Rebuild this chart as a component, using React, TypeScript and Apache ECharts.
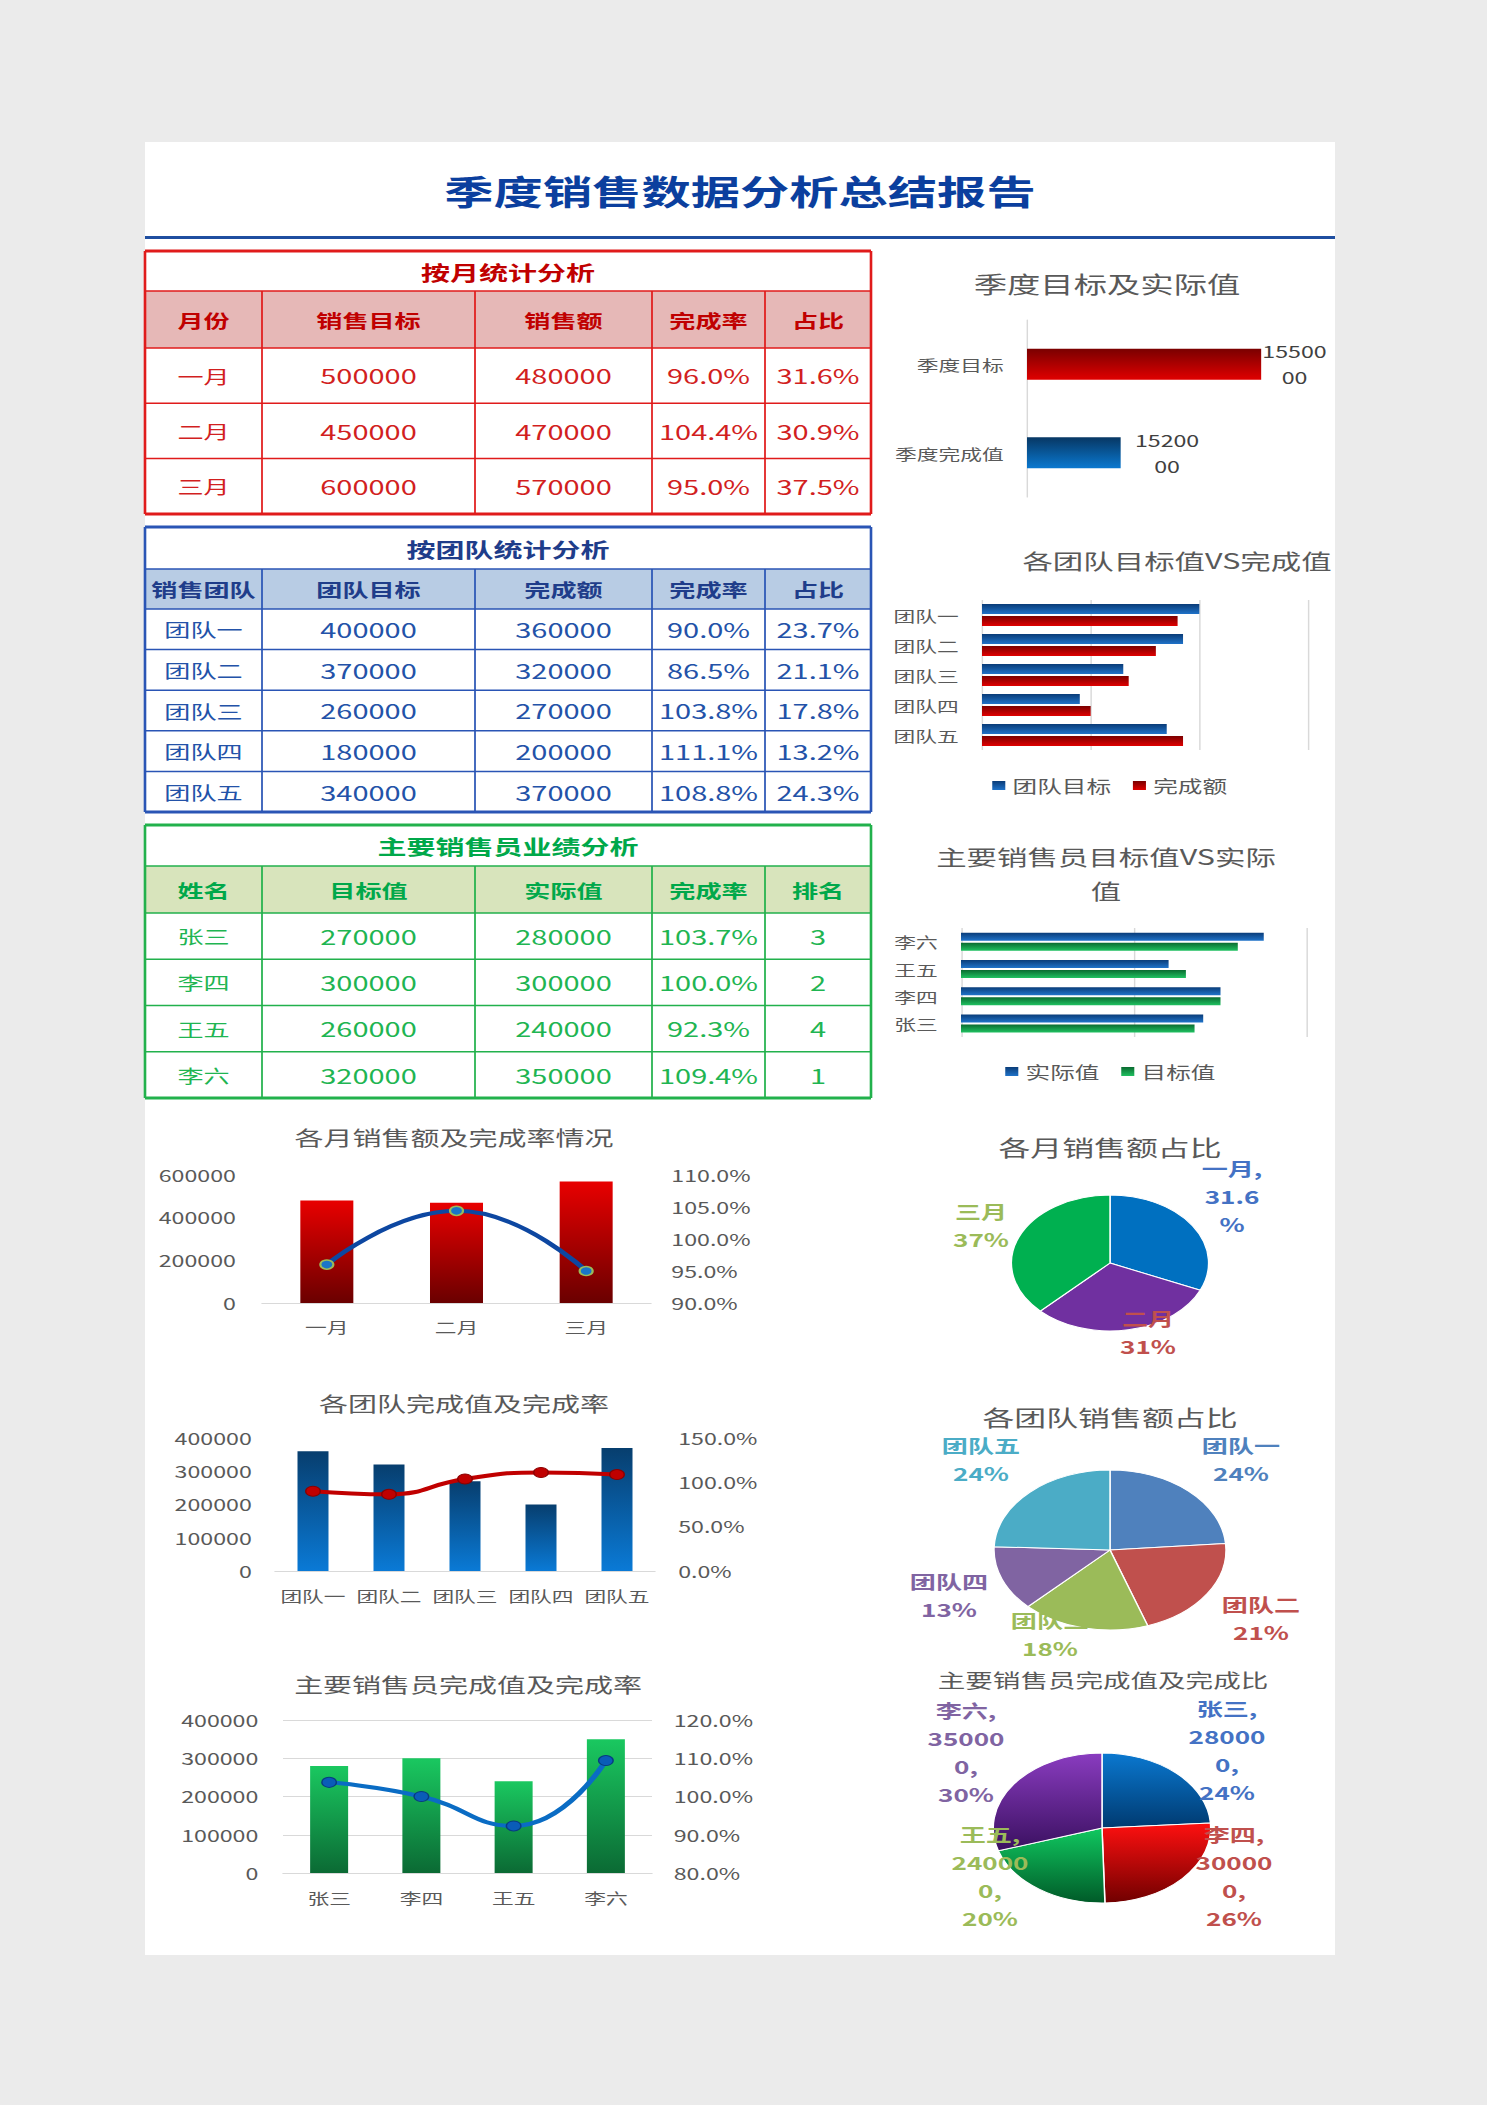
import React, { useEffect, useRef } from 'react';
import * as echarts from 'echarts';

// ---------------- data ----------------
const monthNames = ['一月', '二月', '三月'];
const monthTarget = [500000, 450000, 600000];
const monthSales = [480000, 470000, 570000];
const monthRate = [96.0, 104.4, 95.0];
const monthShare = [31.6, 30.9, 37.5];

const teamNames = ['团队一', '团队二', '团队三', '团队四', '团队五'];
const teamTarget = [400000, 370000, 260000, 180000, 340000];
const teamDone = [360000, 320000, 270000, 200000, 370000];
const teamRate = [90.0, 86.5, 103.8, 111.1, 108.8];
const teamShare = [23.7, 21.1, 17.8, 13.2, 24.3];

const personNames = ['张三', '李四', '王五', '李六'];
const personTarget = [270000, 300000, 260000, 320000];
const personActual = [280000, 300000, 240000, 350000];
const personRate = [103.7, 100.0, 92.3, 109.4];
const personRank = [3, 2, 4, 1];

const quarterNames = ['季度目标', '季度完成值'];
const quarterValues = [1550000, 1520000];

const monthTableHeaders = ['月份', '销售目标', '销售额', '完成率', '占比'];
const teamTableHeaders = ['销售团队', '团队目标', '完成额', '完成率', '占比'];
const personTableHeaders = ['姓名', '目标值', '实际值', '完成率', '排名'];

// axis ranges [min, max, interval]
const monthAmountAxis = [0, 600000, 200000];
const monthRateAxis = [90, 110, 5];
const teamAmountAxis = [0, 400000, 100000];
const teamRateAxis = [0, 150, 50];
const personAmountAxis = [0, 400000, 100000];
const personRateAxis = [80, 120, 10];
const teamBarAxis = [0, 600000, 200000];
const personBarAxis = [0, 400000, 200000];
const quarterAxis = [1500000, 1560000];

// ---------------- layout (page pixels) ----------------
const SX = 1.45; // horizontal stretch of the whole sheet
const W = 1025;
const H = 2105;
const lx = (v: number) => v / SX;
const FONT = '"Noto Sans CJK SC", "Noto Sans", sans-serif';

const TABLE_COLS = [145, 262, 475, 652, 765, 871];
const MONTH_TABLE = { top: 251, titleH: 40, headerH: 57, rowH: 55.3 };
const TEAM_TABLE = { top: 527, titleH: 42, headerH: 40, rowH: 40.6 };
const PERSON_TABLE = { top: 825, titleH: 41, headerH: 47, rowH: 46.25 };

const PIE1_LABEL_POS = [[1232, 1196], [1148, 1332], [981, 1225]];
const PIE2_LABEL_POS = [[1241, 1459], [1261, 1618], [1050, 1634], [949, 1595], [981, 1459]];
const PIE3_LABEL_POS = [[1227, 1750], [1234, 1876], [990, 1876], [966, 1752]];

function txt(x: number, y: number, text: string, size: number, color: string, weight = 'normal', extra: any = {}) {
  return {
    type: 'text', x: lx(x), y, z: 5,
    style: {
      text, fill: color, fontSize: size, fontWeight: weight, fontFamily: FONT,
      align: 'center', verticalAlign: 'middle', textAlign: 'center', textVerticalAlign: 'middle', ...extra,
    },
  };
}
function ln(x1: number, y1: number, x2: number, y2: number, color: string, w: number) {
  return { type: 'line', z: 4, shape: { x1: lx(x1), y1, x2: lx(x2), y2 }, style: { stroke: color, lineWidth: w } };
}
function rc(x: number, y: number, w: number, h: number, fill: string, z = 1) {
  return { type: 'rect', z, shape: { x: lx(x), y, width: lx(x + w) - lx(x), height: h }, style: { fill } };
}

function table(cfg: any) {
  const { top, titleH, headerH, rowH, title, headers, rows, border, headFill, titleColor, headColor, cellColor } = cfg;
  const cols = TABLE_COLS;
  const left = cols[0];
  const right = cols[cols.length - 1];
  const headTop = top + titleH;
  const bodyTop = headTop + headerH;
  const bottom = bodyTop + rowH * rows.length;
  const els: any[] = [];
  els.push(rc(left, headTop, right - left, headerH, headFill, 2));
  els.push(txt((left + right) / 2, top + titleH / 2 + 1, title, 20, titleColor, 'bold'));
  headers.forEach((h: string, i: number) =>
    els.push(txt((cols[i] + cols[i + 1]) / 2, headTop + headerH / 2, h, 18, headColor, 'bold')));
  rows.forEach((r: string[], ri: number) =>
    r.forEach((c: string, ci: number) =>
      els.push(txt((cols[ci] + cols[ci + 1]) / 2, bodyTop + rowH * (ri + 0.5), c, ci === 0 ? 18 : 20, cellColor))));
  els.push(ln(left, headTop, right, headTop, border, 1.5));
  els.push(ln(left, bodyTop, right, bodyTop, border, 1.5));
  for (let i = 1; i < rows.length; i++) els.push(ln(left, bodyTop + rowH * i, right, bodyTop + rowH * i, border, 1.5));
  for (let i = 1; i < cols.length - 1; i++) els.push(ln(cols[i], headTop, cols[i], bottom, border, 1.2));
  els.push(ln(left, top, right, top, border, 3));
  els.push(ln(left, bottom, right, bottom, border, 3));
  els.push(ln(left, top, left, bottom, border, 1.8));
  els.push(ln(right, top, right, bottom, border, 1.8));
  return els;
}

const vgrad = (top: string, bottom: string) =>
  new echarts.graphic.LinearGradient(0, 0, 0, 1, [
    { offset: 0, color: top },
    { offset: 1, color: bottom },
  ]);

function gridBox(x: number, y: number, w: number, h: number) {
  return { left: lx(x), top: y, width: lx(x + w) - lx(x), height: h, containLabel: false, outerBoundsMode: 'none' };
}

function buildOption() {
  const lbl = { fontFamily: FONT, color: '#595959' };
  const pctFmt = (v: number) => v.toFixed(1) + '%';
  const plainFmt = (v: number) => String(v);
  const noLine = { show: false };
  const grayLine = { show: true, lineStyle: { color: '#d9d9d9', width: 1 } };

  const monthRows = monthNames.map((n, i) => [n, String(monthTarget[i]), String(monthSales[i]), monthRate[i].toFixed(1) + '%', monthShare[i].toFixed(1) + '%']);
  const teamRows = teamNames.map((n, i) => [n, String(teamTarget[i]), String(teamDone[i]), teamRate[i].toFixed(1) + '%', teamShare[i].toFixed(1) + '%']);
  const personRows = personNames.map((n, i) => [n, String(personTarget[i]), String(personActual[i]), personRate[i].toFixed(1) + '%', String(personRank[i])]);

  const chartTitles: [string, number, number, number][] = [
    ['季度目标及实际值', 1107, 283, 23],
    ['各团队目标值VS完成值', 1177, 560, 21],
    ['主要销售员目标值VS实际\n值', 1106, 873, 21],
    ['各月销售额及完成率情况', 454, 1137, 20],
    ['各团队完成值及完成率', 464, 1403, 20],
    ['主要销售员完成值及完成率', 468, 1684, 20],
    ['各月销售额占比', 1110, 1146, 22],
    ['各团队销售额占比', 1110, 1416, 22],
    ['主要销售员完成值及完成比', 1103, 1680, 19],
  ];

  const elements: any[] = [
    rc(145, 142, 1190, 1813, '#ffffff', 0),
    txt(740, 190, '季度销售数据分析总结报告', 34, '#0b3f9e', 'bold'),
    ln(145, 237.5, 1335, 237.5, '#1f4ea0', 3),
    ...table({ ...MONTH_TABLE, title: '按月统计分析', headers: monthTableHeaders, rows: monthRows, border: '#e01b1b', headFill: '#e6b8b7', titleColor: '#c00000', headColor: '#c00000', cellColor: '#d21f1f' }),
    ...table({ ...TEAM_TABLE, title: '按团队统计分析', headers: teamTableHeaders, rows: teamRows, border: '#2a55b5', headFill: '#b8cce4', titleColor: '#1f3d8a', headColor: '#1f3d8a', cellColor: '#2352a8' }),
    ...table({ ...PERSON_TABLE, title: '主要销售员业绩分析', headers: personTableHeaders, rows: personRows, border: '#22b14c', headFill: '#d8e4bc', titleColor: '#00a84a', headColor: '#00a84a', cellColor: '#1fb552' }),
    ...chartTitles.map(([t, x, y, s]) => txt(x, y, t, s, '#595959', 'normal', { lineHeight: 34 })),
  ];

  const redH = vgrad('#7a0000', '#e00000');
  const blueH = vgrad('#0a3c78', '#1f72c8');
  const greenH = vgrad('#0a6a30', '#1fc060');

  const valueAxisCommon = (idx: number, r: number[], extra: any = {}) => ({
    gridIndex: idx, type: 'value', min: r[0], max: r[1], interval: r[2],
    axisLine: noLine, axisTick: { show: false }, splitLine: { show: false },
    axisLabel: { ...lbl, fontSize: 16 }, ...extra,
  });

  const pieLabelLayout = (pos: number[][]) => (p: any) => ({
    x: lx(pos[p.dataIndex][0]), y: pos[p.dataIndex][1], align: 'center', verticalAlign: 'middle',
  });
  const pieLabel = { show: true, position: 'outside', fontFamily: FONT, fontSize: 18, fontWeight: 'bold', lineHeight: 28 };

  const monthPieColors = ['#0070c0', '#7030a0', '#00b050'];
  const monthPieLabelColors = ['#4472c4', '#c0504d', '#9bbb59'];
  const teamPieColors = ['#4f81bd', '#c0504d', '#9bbb59', '#8064a2', '#4bacc6'];
  const personPieColors = [vgrad('#0a78d0', '#003a70'), vgrad('#ff1010', '#700000'), vgrad('#10c860', '#005a28'), vgrad('#8a3cc0', '#3a1060')];
  const personPieLabelColors = ['#4472c4', '#c0504d', '#9bbb59', '#8064a2'];
  const quarterColors = [redH, vgrad('#073763', '#0a78d0')];
  const quarterLabelDist = [23, 32];
  const catLabel = (margin: number) => ({ ...lbl, fontSize: 15, margin, interval: 0 });

  return {
    animation: false,
    backgroundColor: '#ebebeb',
    textStyle: { fontFamily: FONT },
    graphic: { elements },
    grid: [
      gridBox(1027, 320, 281, 177),
      gridBox(982, 600, 326, 150),
      gridBox(961, 928, 346, 109),
      gridBox(262, 1175, 389, 128),
      gridBox(275, 1438, 380, 133),
      gridBox(283, 1720, 369, 153),
    ],
    legend: [
      { data: ['团队目标', '完成额'], left: lx(985), top: 772, icon: 'rect', itemWidth: 9, itemHeight: 9, itemGap: 15, textStyle: { ...lbl, fontSize: 17 } },
      { data: ['实际值', '目标值'], left: lx(998), top: 1058, icon: 'rect', itemWidth: 9, itemHeight: 9, itemGap: 15, textStyle: { ...lbl, fontSize: 17 } },
    ],
    xAxis: [
      { gridIndex: 0, type: 'value', min: quarterAxis[0], max: quarterAxis[1], show: false },
      { gridIndex: 1, type: 'value', min: teamBarAxis[0], max: teamBarAxis[1], interval: teamBarAxis[2], axisLabel: { show: false }, axisLine: noLine, axisTick: { show: false }, splitLine: grayLine },
      { gridIndex: 2, type: 'value', min: personBarAxis[0], max: personBarAxis[1], interval: personBarAxis[2], axisLabel: { show: false }, axisLine: noLine, axisTick: { show: false }, splitLine: grayLine },
      { gridIndex: 3, type: 'category', data: monthNames, axisLine: grayLine, axisTick: { show: false }, axisLabel: catLabel(16) },
      { gridIndex: 4, type: 'category', data: teamNames, axisLine: grayLine, axisTick: { show: false }, axisLabel: catLabel(17) },
      { gridIndex: 5, type: 'category', data: personNames, axisLine: grayLine, axisTick: { show: false }, axisLabel: catLabel(17) },
    ],
    yAxis: [
      { gridIndex: 0, type: 'category', data: quarterNames, inverse: true, axisLine: grayLine, axisTick: { show: false }, axisLabel: catLabel(16) },
      { gridIndex: 1, type: 'category', data: teamNames, inverse: true, axisLine: noLine, axisTick: { show: false }, axisLabel: catLabel(16) },
      { gridIndex: 2, type: 'category', data: personNames, axisLine: noLine, axisTick: { show: false }, axisLabel: catLabel(16) },
      valueAxisCommon(3, monthAmountAxis, { axisLabel: { ...lbl, fontSize: 16, margin: 18, formatter: plainFmt } }),
      valueAxisCommon(3, monthRateAxis, { position: 'right', axisLabel: { ...lbl, fontSize: 16, margin: 14, formatter: pctFmt } }),
      valueAxisCommon(4, teamAmountAxis, { axisLabel: { ...lbl, fontSize: 16, margin: 16, formatter: plainFmt } }),
      valueAxisCommon(4, teamRateAxis, { position: 'right', axisLabel: { ...lbl, fontSize: 16, margin: 16, formatter: pctFmt } }),
      valueAxisCommon(5, personAmountAxis, { splitLine: grayLine, axisLabel: { ...lbl, fontSize: 16, margin: 17, formatter: plainFmt } }),
      valueAxisCommon(5, personRateAxis, { position: 'right', axisLabel: { ...lbl, fontSize: 16, margin: 15, formatter: pctFmt } }),
    ],
    series: [
      {
        type: 'bar', name: '季度值', xAxisIndex: 0, yAxisIndex: 0, barWidth: 31,
        data: quarterValues.map((v, i) => ({ value: v, itemStyle: { color: quarterColors[i] }, label: { distance: quarterLabelDist[i] } })),
        label: {
          show: true, position: 'right', align: 'center', verticalAlign: 'middle', fontFamily: FONT, fontSize: 16, lineHeight: 26, color: '#404040',
          formatter: (p: any) => { const s = String(p.value); return s.slice(0, 5) + '\n' + s.slice(5); },
        },
      },
      { type: 'bar', name: '团队目标', xAxisIndex: 1, yAxisIndex: 1, data: teamTarget, barWidth: 10, barGap: '20%', itemStyle: { color: blueH } },
      { type: 'bar', name: '完成额', xAxisIndex: 1, yAxisIndex: 1, data: teamDone, barWidth: 10, barGap: '20%', itemStyle: { color: redH } },
      { type: 'bar', name: '实际值', xAxisIndex: 2, yAxisIndex: 2, data: personActual, barWidth: 8, barGap: '25%', itemStyle: { color: blueH } },
      { type: 'bar', name: '目标值', xAxisIndex: 2, yAxisIndex: 2, data: personTarget, barWidth: 8, barGap: '25%', itemStyle: { color: greenH } },
      { type: 'bar', name: '月销售额', xAxisIndex: 3, yAxisIndex: 3, data: monthSales, barWidth: lx(53), itemStyle: { color: vgrad('#e80000', '#6a0000') } },
      {
        type: 'line', name: '月完成率', xAxisIndex: 3, yAxisIndex: 4, data: monthRate, smooth: true, symbol: 'circle', symbolSize: 9,
        lineStyle: { color: '#0d47a1', width: 4 }, itemStyle: { color: '#1a75c8', borderColor: '#9bbb59', borderWidth: 1.5 },
      },
      { type: 'bar', name: '团队完成值', xAxisIndex: 4, yAxisIndex: 5, data: teamDone, barWidth: lx(31), itemStyle: { color: vgrad('#073e6e', '#0a7ad6') } },
      {
        type: 'line', name: '团队完成率', xAxisIndex: 4, yAxisIndex: 6, data: teamRate, smooth: true, symbol: 'circle', symbolSize: 10,
        lineStyle: { color: '#c00000', width: 4 }, itemStyle: { color: '#c00000', borderColor: '#8b0000', borderWidth: 1 },
      },
      { type: 'bar', name: '销售员实际值', xAxisIndex: 5, yAxisIndex: 7, data: personActual, barWidth: lx(38), itemStyle: { color: vgrad('#1ac860', '#0b6a34') } },
      {
        type: 'line', name: '销售员完成率', xAxisIndex: 5, yAxisIndex: 8, data: personRate, smooth: true, symbol: 'circle', symbolSize: 10,
        lineStyle: { color: '#0a6cc4', width: 4 }, itemStyle: { color: '#0a5cb8', borderColor: '#083c80', borderWidth: 1 },
      },
      {
        type: 'pie', name: '各月销售额占比', center: [lx(1110), 1263], radius: 68, startAngle: 90, clockwise: true,
        percentPrecision: 0, avoidLabelOverlap: false,
        itemStyle: { borderColor: '#ffffff', borderWidth: 1 },
        data: monthNames.map((n, i) => ({ name: n, value: monthSales[i], itemStyle: { color: monthPieColors[i] }, label: { color: monthPieLabelColors[i] } })),
        label: {
          ...pieLabel,
          formatter: (p: any) => (p.dataIndex === 0 ? `${p.name},\n${monthShare[0].toFixed(1)}\n%` : `${p.name}\n${p.percent}%`),
        },
        labelLine: { show: false },
        labelLayout: pieLabelLayout(PIE1_LABEL_POS),
      },
      {
        type: 'pie', name: '各团队销售额占比', center: [lx(1110), 1550], radius: 80, startAngle: 90, clockwise: true,
        percentPrecision: 0, avoidLabelOverlap: false,
        itemStyle: { borderColor: '#ffffff', borderWidth: 1 },
        data: teamNames.map((n, i) => ({ name: n, value: teamDone[i], itemStyle: { color: teamPieColors[i] }, label: { color: teamPieColors[i] } })),
        label: { ...pieLabel, formatter: (p: any) => `${p.name}\n${p.percent}%` },
        labelLine: { show: false },
        labelLayout: pieLabelLayout(PIE2_LABEL_POS),
      },
      {
        type: 'pie', name: '主要销售员完成值及完成比', center: [lx(1102), 1828], radius: 75, startAngle: 90, clockwise: true,
        percentPrecision: 0, avoidLabelOverlap: false,
        itemStyle: { borderColor: '#ffffff', borderWidth: 1 },
        data: personNames.map((n, i) => ({ name: n, value: personActual[i], itemStyle: { color: personPieColors[i] }, label: { color: personPieLabelColors[i] } })),
        label: {
          ...pieLabel,
          formatter: (p: any) => { const s = String(p.value); return `${p.name},\n${s.slice(0, 5)}\n${s.slice(5)},\n${p.percent}%`; },
        },
        labelLine: { show: false },
        labelLayout: pieLabelLayout(PIE3_LABEL_POS),
      },
    ],
  };
}

export default function App() {
  const ref = useRef<HTMLDivElement>(null);
  useEffect(() => {
    if (!ref.current) return;
    const chart = echarts.init(ref.current, null, { renderer: 'svg' });
    chart.setOption(buildOption() as any);
    return () => chart.dispose();
  }, []);
  return (
    <div style={{ position: 'absolute', left: 0, top: 0, width: 1487, height: 2105, background: '#ebebeb', overflow: 'hidden' }}>
      <div
        ref={ref}
        style={{ position: 'absolute', left: 0, top: 0, width: W, height: H, transform: `scaleX(${SX})`, transformOrigin: '0 0' }}
      />
    </div>
  );
}
